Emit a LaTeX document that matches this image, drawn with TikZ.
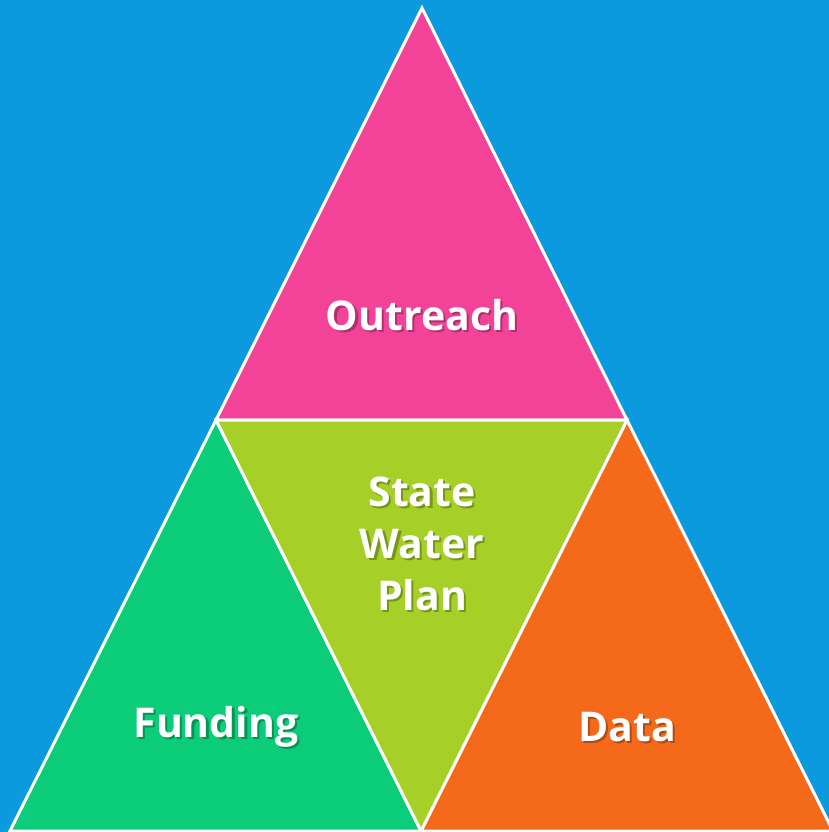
\documentclass[tikz,border=0pt]{standalone}
\usepackage{fontspec}
\setmainfont{Open Sans}
\definecolor{bgblue}{RGB}{12,154,222}
\definecolor{tripink}{RGB}{243,67,153}
\definecolor{trilime}{RGB}{166,207,40}
\definecolor{trigreen}{RGB}{11,204,120}
\definecolor{triorange}{RGB}{245,105,26}
% white word with a soft dark drop shadow behind it
\newcommand{\shadowed}[1]{%
  \rlap{\hspace{2.2pt}\raisebox{-2.6pt}{\pgfsetfillopacity{0.28}\color{black}#1\pgfsetfillopacity{1}}}%
  {\color{white}#1}}
\tikzset{
  piece/.style={draw=white, line width=3pt, line join=miter},
  lbl/.style={font=\bfseries\fontsize{41}{52}\selectfont, align=center, inner sep=0pt}
}
\begin{document}
\begin{tikzpicture}[x=1pt,y=-1pt]
  \fill[bgblue] (0,0) rectangle (829,832);
  \useasboundingbox (0,0) rectangle (829,832);
  % corner points of the pyramid
  \coordinate (T) at (422,8);
  \coordinate (ML) at (216,420);
  \coordinate (MR) at (627,420);
  \coordinate (BL) at (10,831);
  \coordinate (BM) at (421,831);
  \coordinate (BR) at (833,831);
  % four triangles
  \filldraw[piece, fill=tripink] (T) -- (MR) -- (ML) -- cycle;
  \filldraw[piece, fill=trigreen] (ML) -- (BM) -- (BL) -- cycle;
  \filldraw[piece, fill=triorange] (MR) -- (BR) -- (BM) -- cycle;
  \filldraw[piece, fill=trilime] (ML) -- (MR) -- (BM) -- cycle;
  % labels
  \node[lbl] (outreach) at (422,316) {\shadowed{Outreach}};
  \node[lbl] (swp) at (422,545) {\shadowed{State}\\\shadowed{Water}\\\shadowed{Plan}};
  \node[lbl] (funding) at (216,728) {\shadowed{Funding}};
  \node[lbl] (data) at (627,728) {\shadowed{Data}};
\end{tikzpicture}
\end{document}
